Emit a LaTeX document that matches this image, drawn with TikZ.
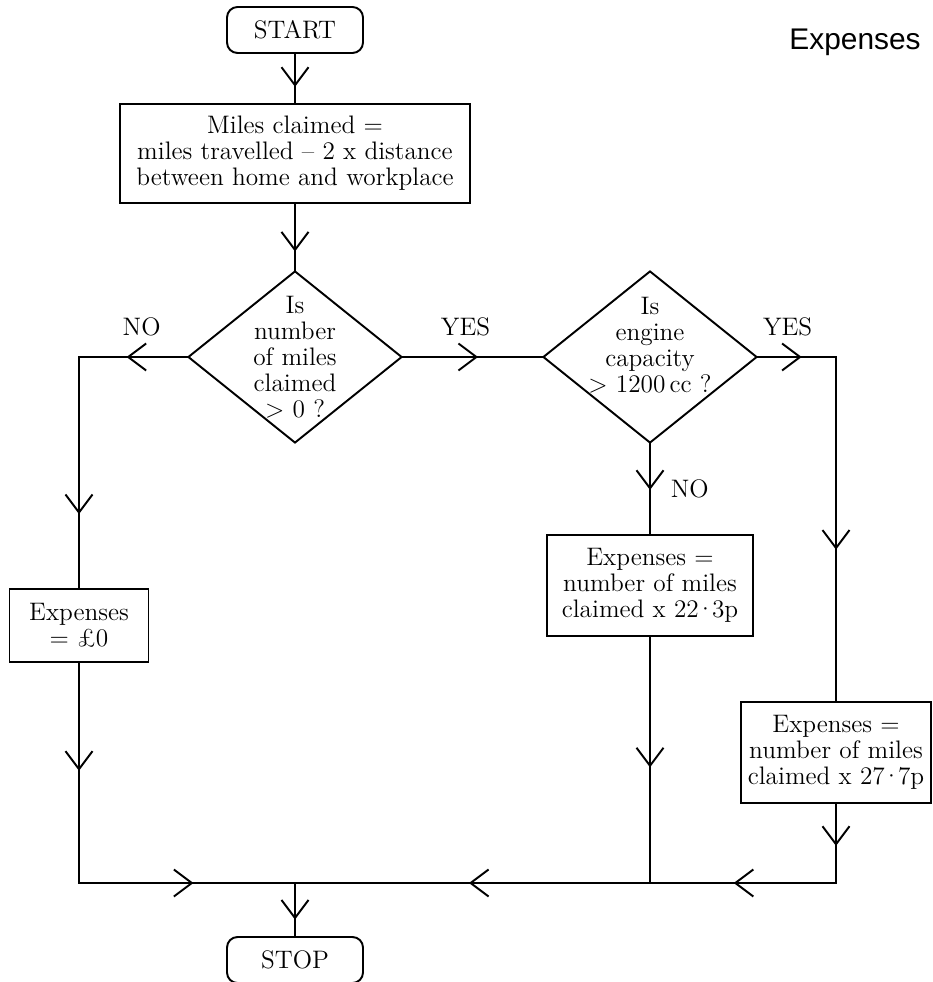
\documentclass[tikz,border=0pt]{standalone}
\usepackage{fontspec}
\newfontfamily\headfont{Liberation Sans}
\usetikzlibrary{shapes.geometric,arrows.meta,decorations.markings}

\newcommand{\cdotnum}{\kern-0.12em·\kern-0.12em}

\tikzset{
  flow/.style={postaction={decorate}, decoration={markings,
      mark=at position #1 with {\arrow{Straight Barb[length=3.6mm,width=5.4mm]}}}},
  terminal/.style={draw, rounded corners=6pt, minimum width=2.72cm, minimum height=0.92cm},
  process/.style={draw, align=center, inner sep=0pt},
  decision/.style={draw, diamond, inner sep=0pt, minimum width=4.28cm, minimum height=3.44cm}
}

\begin{document}
\begin{tikzpicture}[line width=1.1pt, line cap=rect, font=\fontsize{14.4}{14.8}\selectfont]
    \useasboundingbox (0,0) rectangle (18.64,-19.64);

    % Title
    \node[font=\headfont\fontsize{17}{20}\selectfont] (title) at (17.1,-0.84) {Expenses};

    % Start and stop
    \node[terminal] (start) at (5.9,-0.6) {START};
    \node[terminal] (stop) at (5.9,-19.2) {STOP};

    % Miles claimed
    \node[process, minimum width=7cm, minimum height=1.98cm] (miles) at (5.9,-3.07)
        {Miles claimed =\\miles travelled -- 2 x distance\\between home and workplace};

    % Decisions
    \node[decision] (d1) at (5.9,-7.14) {};
    \node[align=center] (q1) at (d1) {Is\\number\\of miles\\claimed\\\textgreater{} 0 ?};
    \node[decision] (d2) at (13.0,-7.14) {};
    \node[align=center] (q2) at (13.0,-6.9) {Is\\engine\\capacity\\\textgreater{} 1200\,cc ?};

    % Expenses
    \node[process, minimum width=2.78cm, minimum height=1.46cm] (zero) at (1.58,-12.51)
        {Expenses\\= \pounds 0};
    \node[process, minimum width=4.12cm, minimum height=2.02cm] (low) at (13.0,-11.71)
        {Expenses =\\number of miles\\claimed x 22\cdotnum 3p};
    \node[process, minimum width=3.8cm, minimum height=2.02cm] (high) at (16.72,-15.05)
        {Expenses =\\number of miles\\claimed x 27\cdotnum 7p};

    % Corners
    \coordinate (base) at (0,-17.66);
    \coordinate (nocorner) at (zero |- d1);
    \coordinate (yescorner) at (high |- d2);
    \coordinate (leftfoot) at (zero |- base);
    \coordinate (lowfoot) at (low |- base);
    \coordinate (rightfoot) at (high |- base);
    \coordinate (join) at (start |- base);

    % Connectors
    \draw[flow=0.67] (start) -- (miles);
    \draw[flow=0.72] (miles) -- (d1);
    \draw[flow=0.56] (d1.west) -- node[pos=0.42, above=8pt] (no1) {NO} (nocorner);
    \draw[flow=0.68] (nocorner) -- (zero);
    \draw[flow=0.49] (zero) -- (leftfoot);
    \draw[flow=0.53] (leftfoot) -- (join);
    \draw[flow=0.54] (d1.east) -- node[pos=0.45, above=8pt] (yes1) {YES} (d2.west);
    \draw[flow=0.56] (d2.east) -- node[pos=0.38, above=8pt] (yes2) {YES} (yescorner);
    \draw[flow=0.56] (yescorner) -- (high);
    \draw[flow=0.53] (high) -- (rightfoot);
    \draw[flow=0.55] (rightfoot) -- (lowfoot);
    \draw[flow=0.51] (d2.south) -- node[pos=0.5, right=8pt] (no2) {NO} (low);
    \draw[flow=0.53] (low) -- (lowfoot);
    \draw[flow=0.51] (lowfoot) -- (join);
    \draw[flow=0.69] (join) -- (stop);
\end{tikzpicture}
\end{document}
